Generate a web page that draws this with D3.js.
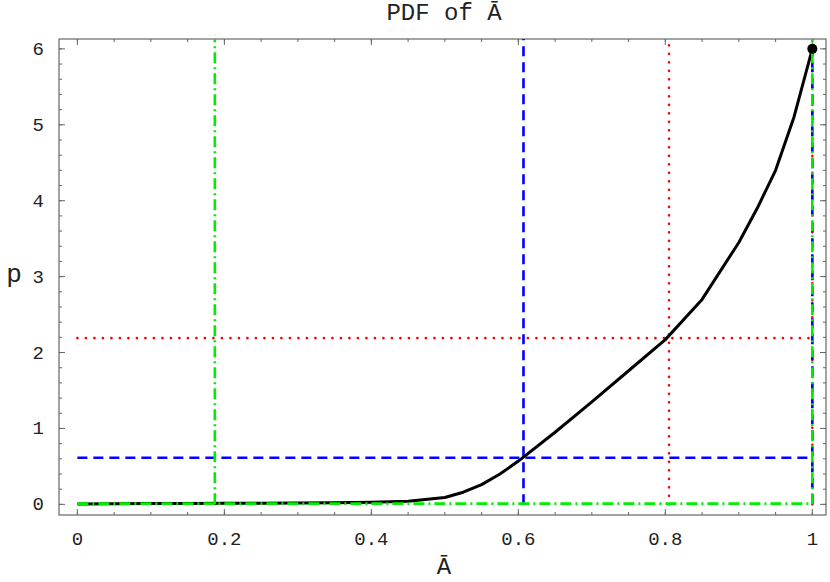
<!DOCTYPE html>
<html>
<head>
<meta charset="utf-8">
<script src="https://cdn.jsdelivr.net/npm/d3@7"></script>
<style>
  body { margin: 0; background: #fff; }
  text { font-family: "Liberation Mono", "DejaVu Sans Mono", monospace; fill: #222; }
</style>
</head>
<body>
<div id="container"></div>
<script>
/**
 * DATA
 * */
const curveX = [0, 0.05, 0.1, 0.15, 0.2, 0.25, 0.3, 0.35, 0.4, 0.45, 0.5, 0.525, 0.55, 0.575, 0.6,
  0.65, 0.7, 0.75, 0.8, 0.85, 0.9, 0.925, 0.95, 0.975, 1];
const curveY = [0.005, 0.008, 0.01, 0.012, 0.014, 0.016, 0.018, 0.022, 0.028, 0.04, 0.09, 0.16, 0.26, 0.4, 0.57,
  0.95, 1.35, 1.76, 2.17, 2.7, 3.45, 3.9, 4.4, 5.1, 6.0];
const peak = [1, 6];

// quantile guides: [x, y] of each crossing
const guideRed = [0.805, 2.19];
const guideBlue = [0.607, 0.615];
const guideGreen = [0.187, 0.01];

const xTicks = [0, 0.2, 0.4, 0.6, 0.8, 1];
const xTickLabels = ["0", "0.2", "0.4", "0.6", "0.8", "1"];
const yTicks = [0, 1, 2, 3, 4, 5, 6];

/**
 * CONSTANTS
 * */
const width = 830, height = 582;
const frame = { left: 59, right: 826, top: 39, bottom: 515 };

const x = d3.scaleLinear().domain([-0.025, 1.0186]).range([frame.left, frame.right]);
const y = d3.scaleLinear().domain([-0.14, 6.13]).range([frame.bottom, frame.top]);

const svg = d3.select("#container").append("svg")
  .attr("width", width).attr("height", height);

const axisColor = "#666";

// frame ticks (all four sides, pointing inward)
const xMinor = d3.range(0, 1.0001, 0.05);
const yMinor = d3.range(0, 6.0001, 0.2);

function xTickLines(vals, len) {
  vals.forEach(v => {
    svg.append("line").attr("x1", x(v)).attr("x2", x(v))
      .attr("y1", frame.bottom).attr("y2", frame.bottom - len)
      .attr("stroke", axisColor).attr("stroke-width", 1);
    svg.append("line").attr("x1", x(v)).attr("x2", x(v))
      .attr("y1", frame.top).attr("y2", frame.top + len)
      .attr("stroke", axisColor).attr("stroke-width", 1);
  });
}
function yTickLines(vals, len) {
  vals.forEach(v => {
    svg.append("line").attr("y1", y(v)).attr("y2", y(v))
      .attr("x1", frame.left).attr("x2", frame.left + len)
      .attr("stroke", axisColor).attr("stroke-width", 1);
    svg.append("line").attr("y1", y(v)).attr("y2", y(v))
      .attr("x1", frame.right).attr("x2", frame.right - len)
      .attr("stroke", axisColor).attr("stroke-width", 1);
  });
}
xTickLines(xMinor, 3);
xTickLines(xTicks, 6);
yTickLines(yMinor, 3);
yTickLines(yTicks, 6);

svg.append("rect")
  .attr("x", frame.left).attr("y", frame.top)
  .attr("width", frame.right - frame.left).attr("height", frame.bottom - frame.top)
  .attr("fill", "none").attr("stroke", axisColor).attr("stroke-width", 1.2);

// tick labels
svg.selectAll(".xlab").data(xTicks).join("text")
  .attr("class", "xlab")
  .attr("x", d => x(d)).attr("y", 545)
  .attr("text-anchor", "middle").attr("font-size", 19)
  .text((d, i) => xTickLabels[i]);

svg.selectAll(".ylab").data(yTicks).join("text")
  .attr("class", "ylab")
  .attr("x", 44).attr("y", d => y(d) + 6)
  .attr("text-anchor", "end").attr("font-size", 19)
  .text(d => d);

// titles
svg.append("text").attr("x", 444).attr("y", 20)
  .attr("text-anchor", "middle").attr("font-size", 24).text("PDF of Ā");
svg.append("text").attr("x", 444).attr("y", 574)
  .attr("text-anchor", "middle").attr("font-size", 24).text("Ā");
svg.append("text").attr("x", 14).attr("y", 282)
  .attr("text-anchor", "middle").attr("font-size", 26).text("p");

// guide lines: vertical at x, horizontal at y, vertical at x=1
function guide(g, color, dash, cap) {
  const top = y.domain()[1];
  const segs = [
    [[g[0], 0], [g[0], top]],
    [[0, g[1]], [1, g[1]]],
    [[1, 0], [1, top]]
  ];
  segs.forEach(s => {
    svg.append("line")
      .attr("x1", x(s[0][0])).attr("y1", y(s[0][1]))
      .attr("x2", x(s[1][0])).attr("y2", y(s[1][1]))
      .attr("stroke", color).attr("stroke-width", 2.6)
      .attr("stroke-dasharray", dash).attr("stroke-linecap", cap);
  });
}

guide(guideRed, "#ff0000", "0.1,8.4", "round");
guide(guideBlue, "#0000ff", "10,6", "butt");

const line = d3.line().x(d => x(d[0])).y(d => y(d[1]));
svg.append("path")
  .datum(curveX.map((v, i) => [v, curveY[i]]))
  .attr("d", line)
  .attr("fill", "none").attr("stroke", "#000").attr("stroke-width", 3)
  .attr("stroke-linejoin", "round");

guide(guideGreen, "#00ee00", "11,4,2,4", "butt");

svg.append("circle")
  .attr("cx", x(peak[0])).attr("cy", y(peak[1])).attr("r", 5)
  .attr("fill", "#000");
</script>
</body>
</html>
